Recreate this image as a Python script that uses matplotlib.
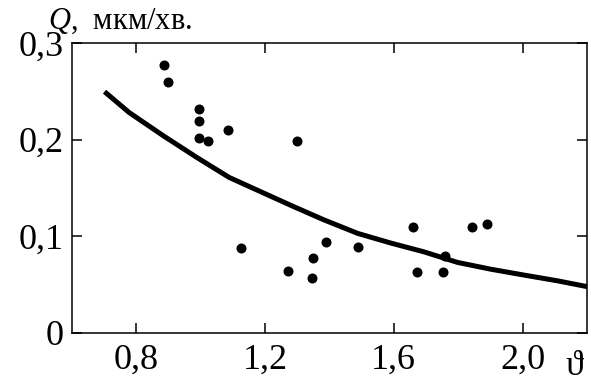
"""Q vs theta scatter with fitted curve."""

import matplotlib
matplotlib.use("Agg")
import matplotlib.pyplot as plt

# ── Data ─────────────────────────────────────────────────────────────
theta_pts = [0.887, 0.899, 0.995, 0.995, 0.995, 1.023, 1.085, 1.299, 1.126, 1.271,
             1.349, 1.346, 1.389, 1.488, 1.659, 1.671, 1.758, 1.752, 1.842, 1.888]
q_pts = [0.277, 0.260, 0.232, 0.219, 0.202, 0.199, 0.210, 0.199, 0.088, 0.064,
         0.078, 0.057, 0.094, 0.089, 0.110, 0.063, 0.080, 0.063, 0.110, 0.113]

theta_fit = [0.707, 0.778, 0.884, 0.986, 1.088, 1.194, 1.287, 1.383, 1.488, 1.591,
             1.693, 1.798, 1.901, 2.003, 2.108, 2.2]
q_fit = [0.248, 0.228, 0.204, 0.182, 0.161, 0.145, 0.131, 0.117, 0.103, 0.093,
         0.084, 0.073, 0.066, 0.060, 0.054, 0.048]

x_ticks = [0.8, 1.2, 1.6, 2.0]
x_labels = ["0,8", "1,2", "1,6", "2,0"]
y_ticks = [0.0, 0.1, 0.2, 0.3]
y_labels = ["0", "0,1", "0,2", "0,3"]

SERIF = ["Liberation Serif", "DejaVu Serif"]
plt.rcParams["font.family"] = SERIF
plt.rcParams["mathtext.fontset"] = "custom"
plt.rcParams["mathtext.rm"] = "Liberation Serif"
plt.rcParams["mathtext.it"] = "Liberation Serif:italic"

fig = plt.figure(figsize=(5.91, 3.82), dpi=100)
ax = fig.add_axes([0.1218, 0.1283, 0.8714, 0.7591])

ax.plot(theta_fit, q_fit, color="black", linewidth=3.6, solid_joinstyle="round")
ax.scatter(theta_pts, q_pts, s=52, color="black", zorder=3, linewidths=0)

ax.set_xlim(0.6, 2.2)
ax.set_ylim(0.0, 0.3)
ax.set_xticks(x_ticks)
ax.set_xticklabels(x_labels)
ax.set_yticks(y_ticks)
ax.set_yticklabels(y_labels)
ax.tick_params(axis="both", direction="in", length=7, width=1.1, labelsize=26,
               top=True, right=True, pad=6)
ax.tick_params(axis="x", pad=8)
for spine in ax.spines.values():
    spine.set_linewidth(1.1)

fig.text(0.081, 0.945, r"$Q$,  мкм/хв.", fontsize=22, ha="left", va="center")
fig.text(0.972, 0.04, "ϑ", fontsize=26, ha="center", va="center", family=SERIF)

fig.savefig("out.png", dpi=100, facecolor="white")
